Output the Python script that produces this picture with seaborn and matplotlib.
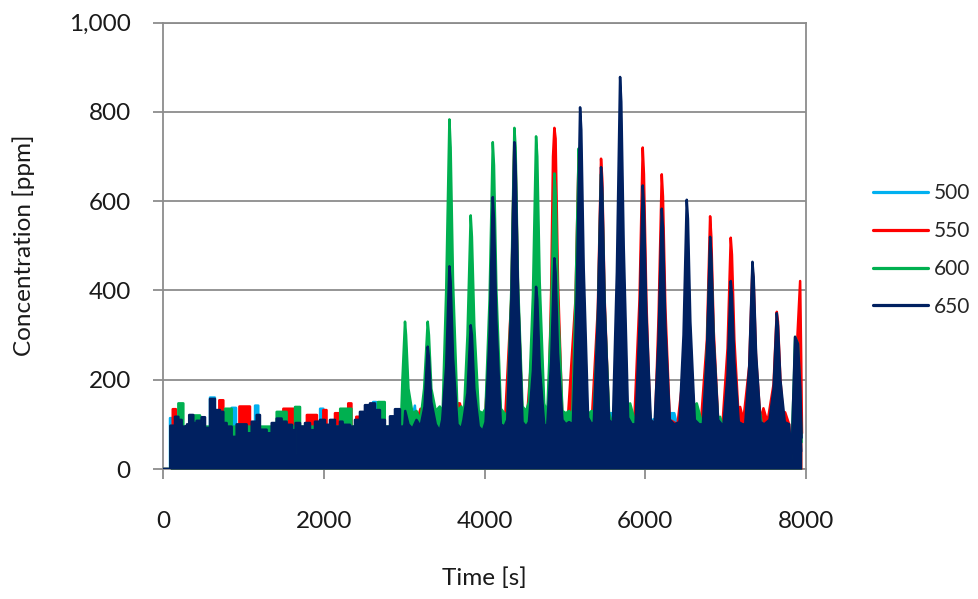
import matplotlib
matplotlib.use("Agg")
import matplotlib.pyplot as plt
from matplotlib.lines import Line2D
from matplotlib.ticker import FuncFormatter, FixedLocator
import numpy as np
import pandas as pd
import seaborn as sns

sns.set_theme(style="white")
plt.rcParams['font.family'] = ['Lato', 'DejaVu Sans']

# ---------------- data ----------------
series_names = ['500', '550', '600', '650']
series_colors = ['#00B0F0', '#FF0000', '#00B050', '#002060']

x_ticks = [0, 2000, 4000, 6000, 8000]
y_ticks = [0, 200, 400, 600, 800, 1000]

# --- quiet part (0 - ~3000 s): block edges [s] and block levels [ppm] ---
edges_650 = [0, 85, 143, 185, 226, 280, 292, 320, 371, 413,
             475, 517, 579, 640, 703, 745, 786, 849, 911, 1035,
             1098, 1160, 1201, 1284, 1347, 1409, 1471, 1533, 1600, 1630,
             1645, 1700, 1762, 1824, 1886, 1948, 2010, 2073, 2135, 2197,
             2230, 2245, 2322, 2384, 2446, 2508, 2571, 2633, 2695, 2757,
             2820, 2882, 2944, 2990]
levels_650 = [0, 97, 117, 110, 95, 65, 100, 121, 103, 108,
              116, 92, 157, 132, 128, 103, 95, 72, 100, 80,
              106, 121, 88, 80, 103, 113, 106, 99, 87, 35,
              103, 95, 103, 87, 106, 110, 99, 110, 95, 106,
              40, 99, 95, 110, 128, 143, 147, 132, 110, 95,
              118, 134, 95]

edges_600 = [0, 85, 185, 247, 371, 455, 766, 849, 1409, 1533,
             1638, 1700, 2200, 2340, 2670, 2755, 2900, 2944, 2960]
levels_600 = [0, 95, 147, 95, 120, 95, 135, 95, 128, 95,
              139, 95, 135, 95, 150, 95, 125, 100]

edges_550 = [0, 85, 115, 155, 695, 745, 945, 1077, 1492, 1620,
             1785, 1910, 1990, 2030, 2135, 2180, 2300, 2340, 2400, 2485,
             2960]
levels_550 = [0, 90, 134, 90, 154, 90, 140, 90, 135, 90,
              121, 90, 132, 90, 125, 90, 147, 90, 117, 90]

edges_500 = [0, 81, 115, 579, 640, 849, 903, 1140, 1180, 1950,
             1990, 2610, 2650, 2960]
levels_500 = [0, 114, 85, 160, 85, 137, 85, 142, 85, 135,
              85, 150, 85]

# --- pulsed part (~3000 - 7950 s): time [s] and concentration [ppm] ---
t_650 = [3000, 3010, 3050, 3100, 3150, 3200, 3250, 3290, 3305, 3335,
         3390, 3440, 3470, 3520, 3560, 3575, 3605, 3660, 3710, 3735,
         3785, 3825, 3840, 3870, 3925, 3975, 4010, 4060, 4100, 4115,
         4145, 4200, 4245, 4280, 4330, 4369, 4384, 4414, 4470, 4515,
         4550, 4600, 4639, 4654, 4684, 4740, 4777, 4827, 4867, 4882,
         4912, 4967, 5010, 5050, 5097, 5147, 5187, 5202, 5232, 5287,
         5330, 5358, 5408, 5448, 5463, 5493, 5548, 5595, 5645, 5685,
         5700, 5730, 5785, 5830, 5877, 5927, 5967, 5982, 6012, 6067,
         6114, 6164, 6204, 6219, 6249, 6304, 6360, 6425, 6475, 6515,
         6530, 6560, 6615, 6670, 6716, 6766, 6806, 6821, 6851, 6906,
         6950, 6973, 7023, 7063, 7078, 7108, 7163, 7210, 7243, 7293,
         7333, 7348, 7378, 7433, 7480, 7546, 7596, 7636, 7651, 7681,
         7736, 7790, 7820, 7840, 7864, 7900, 7930, 7945]
c_650 = [100, 130, 100, 90, 110, 95, 140, 274, 250, 150,
         100, 85, 110, 230, 454, 420, 250, 100, 90, 110,
         170, 322, 300, 180, 95, 85, 105, 300, 609, 560,
         330, 100, 95, 110, 370, 732, 680, 400, 105, 95,
         105, 220, 408, 380, 230, 100, 95, 240, 472, 440,
         260, 110, 100, 105, 100, 400, 810, 760, 450, 115,
         100, 105, 340, 676, 630, 370, 110, 100, 440, 878,
         822, 500, 115, 100, 100, 320, 635, 590, 350, 110,
         100, 290, 583, 540, 320, 110, 100, 105, 300, 603,
         560, 330, 110, 100, 100, 260, 520, 480, 290, 110,
         100, 100, 210, 421, 390, 240, 105, 100, 100, 230,
         464, 430, 260, 105, 100, 110, 180, 349, 320, 200,
         105, 100, 20, 150, 296, 280, 180, 70]

t_600 = [2960, 2975, 3007, 3020, 3050, 3100, 3150, 3200, 3245, 3290,
         3305, 3335, 3390, 3440, 3475, 3520, 3560, 3575, 3605, 3660,
         3710, 3740, 3785, 3825, 3840, 3870, 3925, 3975, 4010, 4060,
         4100, 4115, 4145, 4200, 4245, 4280, 4330, 4369, 4384, 4414,
         4470, 4515, 4550, 4600, 4639, 4654, 4684, 4740, 4777, 4827,
         4867, 4882, 4912, 4967, 5010, 5050, 5090, 5130, 5170, 5185,
         5215, 5270, 5330, 5358, 5408, 5448, 5463, 5493, 5548, 5590,
         5645, 5685, 5700, 5730, 5785, 5810, 5850, 5890, 5927, 5967,
         5982, 6012, 6067, 6120, 6164, 6204, 6219, 6249, 6304, 6420,
         6475, 6515, 6530, 6560, 6600, 6640, 6680, 6720, 6766, 6806,
         6821, 6851, 6906, 6930, 6973, 7023, 7063, 7078, 7108, 7163,
         7243, 7293, 7333, 7348, 7378, 7410, 7450, 7546, 7596, 7636,
         7651, 7681, 7700, 7750, 7820, 7850, 7864, 7900, 7930, 7945]
c_600 = [120, 200, 330, 300, 180, 125, 130, 110, 180, 330,
         300, 180, 130, 140, 125, 400, 783, 720, 420, 130,
         140, 120, 300, 568, 520, 320, 130, 125, 135, 380,
         732, 680, 400, 135, 125, 120, 400, 764, 720, 420,
         140, 130, 150, 390, 745, 700, 420, 147, 120, 350,
         662, 620, 370, 130, 125, 130, 120, 380, 718, 650,
         380, 120, 130, 125, 330, 660, 610, 360, 125, 100,
         180, 311, 290, 180, 140, 147, 120, 90, 200, 378,
         350, 200, 110, 90, 150, 251, 230, 150, 90, 90,
         150, 245, 230, 150, 140, 147, 120, 90, 260, 490,
         460, 280, 100, 117, 90, 170, 300, 280, 170, 90,
         90, 170, 311, 290, 180, 147, 100, 90, 150, 280,
         260, 150, 117, 90, 50, 200, 296, 280, 150, 60]

t_550 = [2990, 3007, 3030, 3060, 3150, 3200, 3240, 3260, 3290, 3320,
         3370, 3450, 3510, 3525, 3560, 3575, 3605, 3640, 3690, 3740,
         3785, 3825, 3840, 3870, 3910, 3940, 4000, 4060, 4100, 4115,
         4145, 4200, 4250, 4330, 4369, 4384, 4414, 4470, 4520, 4600,
         4639, 4654, 4684, 4720, 4750, 4790, 4827, 4850, 4867, 4882,
         4912, 4967, 5030, 5130, 5170, 5185, 5215, 5270, 5330, 5408,
         5448, 5463, 5493, 5548, 5600, 5645, 5685, 5700, 5730, 5785,
         5860, 5927, 5967, 5982, 6012, 6060, 6120, 6164, 6204, 6219,
         6249, 6304, 6400, 6475, 6515, 6530, 6560, 6615, 6690, 6766,
         6806, 6821, 6851, 6906, 6960, 7023, 7063, 7078, 7108, 7163,
         7180, 7220, 7293, 7333, 7348, 7378, 7433, 7470, 7520, 7596,
         7636, 7651, 7681, 7720, 7740, 7790, 7820, 7880, 7927, 7940,
         7950]
c_550 = [150, 220, 150, 100, 105, 135, 110, 140, 240, 150,
         100, 110, 140, 300, 600, 550, 300, 147, 147, 110,
         220, 420, 390, 230, 110, 120, 100, 300, 600, 550,
         320, 110, 100, 380, 745, 690, 400, 110, 100, 300,
         600, 560, 320, 110, 130, 110, 400, 700, 764, 740,
         420, 110, 100, 380, 713, 660, 380, 110, 100, 360,
         695, 650, 380, 110, 100, 200, 380, 350, 200, 110,
         100, 380, 720, 660, 380, 110, 100, 340, 660, 610,
         360, 110, 100, 220, 430, 400, 240, 110, 100, 290,
         566, 520, 310, 110, 100, 270, 518, 480, 290, 110,
         139, 110, 230, 450, 420, 250, 110, 136, 105, 190,
         352, 330, 200, 110, 127, 100, 30, 250, 421, 250,
         80]

t_500 = [3010, 3060, 3130, 3160, 3380, 3420, 4500, 4560, 4775, 4810,
         4975, 5030, 5560, 5600, 5640, 6310, 6360, 6420, 7835, 7864,
         7930, 7945]
c_500 = [110, 80, 142, 80, 130, 80, 130, 80, 140, 80,
         125, 80, 125, 125, 80, 125, 125, 80, 20, 80,
         70, 40]

quiet = [(edges_500, levels_500), (edges_550, levels_550),
         (edges_600, levels_600), (edges_650, levels_650)]
pulsed = [(t_500, c_500), (t_550, c_550), (t_600, c_600), (t_650, c_650)]


def build_series(edges, levels, t, c):
    """Join the quiet-part blocks and the pulsed-part points into one table."""
    assert len(edges) == len(levels) + 1 and len(t) == len(c)
    xs, ys = [], []
    for a, b, v in zip(edges[:-1], edges[1:], levels):
        xs += [a, b]
        ys += [v, v]
    return pd.DataFrame({'Time': xs + list(t), 'Conc': ys + list(c)})


# ---------------- figure ----------------
W, H = 979, 599
fig = plt.figure(figsize=(W / 100, H / 100), dpi=100)
fig.patch.set_facecolor('white')
ax_l, ax_r, ax_t, ax_b = 163.5, 806, 22.5, 469
ax = fig.add_axes([ax_l / W, 1 - ax_b / H, (ax_r - ax_l) / W, (ax_b - ax_t) / H])
ax.set_facecolor('white')

for i, (name, col, (e, l), (t, c)) in enumerate(zip(series_names, series_colors, quiet, pulsed)):
    df = build_series(e, l, t, c)
    ax.fill_between(df['Time'], 0, df['Conc'], color=col, lw=0, zorder=2 + 2 * i)
    sns.lineplot(data=df, x='Time', y='Conc', color=col, lw=1.8, ax=ax,
                 estimator=None, sort=False, zorder=3 + 2 * i, legend=False)

grey = '#8c8c8c'
ax.set_xlim(0, 8000)
ax.set_ylim(0, 1000)
ax.xaxis.set_major_locator(FixedLocator(x_ticks))
ax.yaxis.set_major_locator(FixedLocator(y_ticks))
ax.yaxis.set_major_formatter(FuncFormatter(lambda v, p: f'{int(v):,}'))
ax.xaxis.set_major_formatter(FuncFormatter(lambda v, p: f'{int(v)}'))
ax.set_axisbelow(True)
ax.yaxis.grid(True, color=grey, lw=1.3)
ax.xaxis.grid(False)
for s in ax.spines.values():
    s.set_color(grey)
    s.set_linewidth(1.3)
    s.set_visible(True)
ax.tick_params(axis='y', direction='out', length=7.5, width=1.3, color=grey,
               pad=16, labelsize=17.5, labelcolor='#1a1a1a', left=True)
ax.tick_params(axis='x', direction='out', length=7.5, width=1.3, color=grey,
               pad=23, labelsize=17.5, labelcolor='#1a1a1a', bottom=True)

ax.set_xlabel('Time [s]', fontsize=17.5, color='#1a1a1a')
ax.set_ylabel('Concentration [ppm]', fontsize=17.5, color='#1a1a1a')
ax.xaxis.set_label_coords(0.5, (ax_b - 567) / (ax_b - ax_t))
ax.yaxis.set_label_coords((35 - ax_l) / (ax_r - ax_l), 0.5)

handles = [Line2D([], [], color=c, lw=2.3) for c in series_colors]
fig.legend(handles, series_names, loc='center left',
           bbox_to_anchor=(873 / W, 1 - 250 / H), frameon=False,
           fontsize=15, handlelength=2.64, handletextpad=0.3,
           labelspacing=0.85, borderpad=0, borderaxespad=0)

fig.savefig('out.png', dpi=100, facecolor='white')
